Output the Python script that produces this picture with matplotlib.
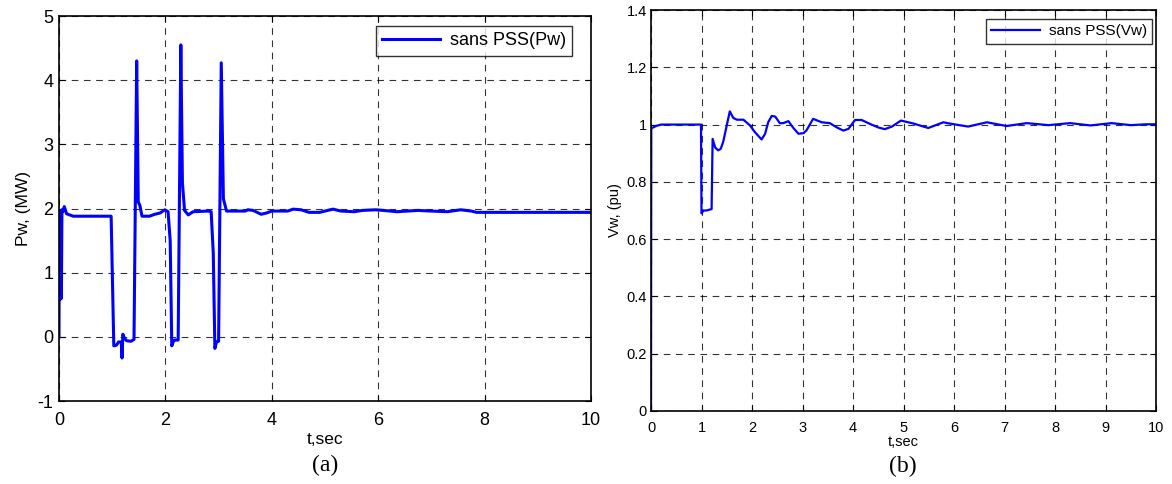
import matplotlib
matplotlib.use("Agg")
import matplotlib.pyplot as plt

# ---- data ----
t_pw = [0, 0.005, 0.02, 0.03, 0.045, 0.055, 0.07, 0.1, 0.14, 0.2, 0.27,
        0.98, 1.03, 1.08, 1.12, 1.17, 1.185, 1.2, 1.23, 1.27, 1.35, 1.41,
        1.46, 1.49, 1.52, 1.56, 1.7, 1.8, 1.9, 1.99, 2.05, 2.09, 2.12, 2.15,
        2.17, 2.24, 2.29, 2.32, 2.36, 2.43, 2.52, 2.8, 2.86, 2.9, 2.93, 2.96,
        3.0, 3.05, 3.09, 3.15, 3.5, 3.55, 3.65, 3.8, 3.9, 4.0, 4.3, 4.4, 4.55,
        4.7, 4.9, 5.0, 5.15, 5.3, 5.55, 5.7, 5.95, 6.1, 6.35, 6.55, 6.75, 7.0,
        7.3, 7.55, 7.75, 7.85, 10]
pw = [0, 1.97, 0.58, 1.95, 0.6, 1.98, 1.95, 2.03, 1.92, 1.9, 1.88,
      1.88, -0.14, -0.13, -0.08, -0.08, -0.33, 0.04, -0.02, -0.06, -0.07, -0.04,
      4.3, 2.1, 2.05, 1.88, 1.88, 1.91, 1.93, 1.98, 1.95, 1.5, -0.14, -0.07,
      -0.05, -0.05, 4.55, 2.4, 1.97, 1.9, 1.95, 1.96, 1.95, 1.3, -0.18, -0.08,
      -0.07, 4.27, 2.15, 1.96, 1.96, 1.98, 1.97, 1.91, 1.93, 1.96, 1.96, 1.99, 1.98,
      1.94, 1.94, 1.96, 1.99, 1.96, 1.95, 1.97, 1.98, 1.97, 1.95, 1.96, 1.97, 1.96,
      1.95, 1.98, 1.96, 1.94, 1.94]

t_vw = [0, 0.005, 0.02, 0.1, 0.2, 0.99, 1.0, 1.04, 1.1, 1.2, 1.22, 1.27, 1.33,
        1.38, 1.43, 1.5, 1.56, 1.63, 1.7, 1.83, 1.96, 2.06, 2.19, 2.26, 2.32,
        2.39, 2.46, 2.55, 2.62, 2.72, 2.82, 2.92, 3.02, 3.08, 3.21, 3.38, 3.54,
        3.68, 3.81, 3.91, 4.04, 4.17, 4.34, 4.5, 4.63, 4.77, 4.95, 5.19, 5.49,
        5.79, 5.9, 6.28, 6.65, 7.04, 7.44, 7.87, 8.3, 8.7, 9.12, 9.5, 9.8, 10]
vw = [0, 0.985, 0.988, 0.995, 1.0, 1.0, 0.69, 0.70, 0.70, 0.705, 0.95, 0.92, 0.91,
      0.915, 0.94, 0.997, 1.046, 1.023, 1.017, 1.017, 0.997, 0.973, 0.948, 0.968, 1.008,
      1.03, 1.028, 1.005, 1.005, 1.012, 0.988, 0.968, 0.97, 0.98, 1.02, 1.008, 1.005,
      0.99, 0.979, 0.985, 1.016, 1.016, 1.002, 0.99, 0.984, 0.993, 1.014, 1.004, 0.988,
      1.008, 1.004, 0.993, 1.008, 0.995, 1.005, 0.998, 1.005, 0.997, 1.005, 0.998, 1.001, 1.001]

pw_yticks = [-1, 0, 1, 2, 3, 4, 5]
pw_xticks = [0, 2, 4, 6, 8, 10]
vw_yticks = [0, 0.2, 0.4, 0.6, 0.8, 1.0, 1.2, 1.4]
vw_ytick_labels = ["0", "0.2", "0.4", "0.6", "0.8", "1", "1.2", "1.4"]
vw_xticks = list(range(0, 11))

plt.rcParams['font.family'] = ['Liberation Sans', 'DejaVu Sans']
plt.rcParams['axes.unicode_minus'] = False

fig = plt.figure(figsize=(11.72, 4.84), dpi=100)
W, H = 1172, 484

def ax_rect(l, r, t, b):
    return [l / W, 1 - b / H, (r - l) / W, (b - t) / H]

grid_kw = dict(color='black', linestyle=(0, (6, 5)), linewidth=0.8, alpha=0.8)

# ---- left panel ----
ax1 = fig.add_axes(ax_rect(59, 591, 16, 401))
ax1.plot(t_pw, pw, color='#0000ff', linewidth=2.2, label='sans PSS(Pw)')
ax1.set_xlim(0, 10)
ax1.set_ylim(-1, 5)
ax1.set_xticks(pw_xticks)
ax1.set_yticks(pw_yticks)
ax1.grid(True, **grid_kw)
ax1.tick_params(direction='in', labelsize=13, length=4, top=True, right=True)
ax1.tick_params(axis='x', pad=8)
ax1.tick_params(axis='y', pad=4)
for s in ax1.spines.values():
    s.set_linewidth(1.2)
ax1.set_ylabel('Pw, (MW)', fontsize=12.5, labelpad=5)
ax1.set_xlabel('t,sec', fontsize=12.5, labelpad=2)
leg1 = ax1.legend(loc='upper right', fontsize=13, frameon=True, fancybox=False,
                  edgecolor='black', handlelength=3.2, borderpad=0.35,
                  handletextpad=0.55,
                  bbox_to_anchor=(1 - 19 / 532, 1 - 10 / 385), borderaxespad=0.0)
leg1.get_frame().set_linewidth(1.0)
fig.text(325 / W, 1 - 465 / H, '(a)', ha='center', va='center', fontsize=17,
         family=['Liberation Serif', 'DejaVu Serif'])

# ---- right panel ----
ax2 = fig.add_axes(ax_rect(651, 1156, 10, 411))
ax2.plot(t_vw, vw, color='#0000ff', linewidth=1.6, label='sans PSS(Vw)')
ax2.set_xlim(0, 10)
ax2.set_ylim(0, 1.4)
ax2.set_xticks(vw_xticks)
ax2.set_yticks(vw_yticks)
ax2.set_yticklabels(vw_ytick_labels)
ax2.grid(True, **grid_kw)
ax2.tick_params(direction='in', labelsize=10.5, length=4, top=True, right=True)
ax2.tick_params(axis='x', pad=7)
ax2.tick_params(axis='y', pad=3)
for s in ax2.spines.values():
    s.set_linewidth(1.2)
ax2.set_ylabel('Vw, (pu)', fontsize=10.5, labelpad=3)
ax2.set_xlabel('t,sec', fontsize=10.5, labelpad=0)
leg2 = ax2.legend(loc='upper right', fontsize=11, frameon=True, fancybox=False,
                  edgecolor='black', handlelength=3.2, borderpad=0.35,
                  handletextpad=0.55,
                  bbox_to_anchor=(1 - 4 / 505, 1 - 9 / 401), borderaxespad=0.0)
leg2.get_frame().set_linewidth(1.0)
fig.text(903 / W, 1 - 466 / H, '(b)', ha='center', va='center', fontsize=17,
         family=['Liberation Serif', 'DejaVu Serif'])

fig.savefig('out.png', dpi=100)
